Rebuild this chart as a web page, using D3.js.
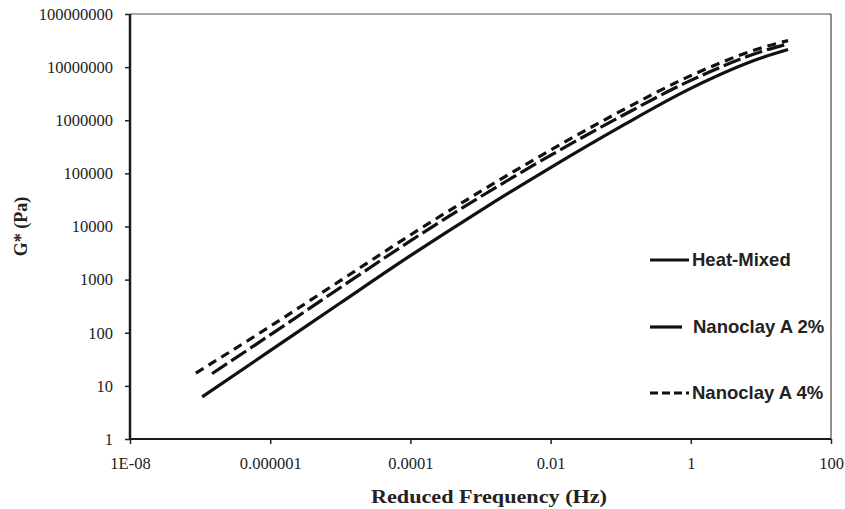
<!doctype html>
<html>
<head>
<meta charset="UTF-8">
<title>G* master curves</title>
<script src="https://cdn.jsdelivr.net/npm/d3@7"></script>
<style>
  body { margin: 0; background: #fff; }
</style>
</head>
<body>
<svg width="845" height="509"></svg>
<script>
    // reduced frequency (Hz) and G* (Pa)
    let freqHeat = [1.07e-7, 1e-6, 1e-5, 1e-4, 1e-3, 1e-2, 1e-1, 1, 10, 24.4];
    let gHeat = [6.2, 46, 363, 2820, 19950, 128800, 758600, 3980000, 14800000, 21400000];

    let freq2 = [1.48e-7, 1e-6, 1e-5, 1e-4, 1e-3, 1e-2, 1e-1, 1, 10, 24.4];
    let g2 = [17, 91, 708, 5370, 36300, 219000, 1175000, 5620000, 19500000, 27500000];

    let freq4 = [8.7e-8, 1e-6, 1e-5, 1e-4, 1e-3, 1e-2, 1e-1, 1, 10, 24.4];
    let g4 = [17.4, 132, 955, 6920, 45700, 275000, 1480000, 6920000, 22900000, 31600000];

    let seriesNames = ["Heat-Mixed", "Nanoclay A 2%", "Nanoclay A 4%"];
    let xTicks = [1e-8, 1e-6, 1e-4, 1e-2, 1, 100];
    let xTickLabels = ["1E-08", "0.000001", "0.0001", "0.01", "1", "100"];
    let yTicks = [1, 10, 100, 1000, 10000, 100000, 1000000, 10000000, 100000000];

    let serif = "'Liberation Serif', 'Times New Roman', 'DejaVu Serif', serif";
    let sans = "'Liberation Sans', Arial, sans-serif";

    let grid = {left: 130, right: 14, top: 14, bottom: 70};
    let svg = d3.select("svg");
    let width = +svg.attr("width"), height = +svg.attr("height");
    let w = width - grid.left - grid.right, h = height - grid.top - grid.bottom;
    let g = svg.append("g").attr("transform", "translate(" + grid.left + "," + grid.top + ")");

    let xScale = d3.scaleLog().domain([1e-8, 100]).range([0, w]);
    let yScale = d3.scaleLog().domain([1, 1e8]).range([h, 0]);

    // frame: thin top/right, heavy left/bottom
    g.append("line").attr("x1", 0).attr("x2", w).attr("y1", 0).attr("y2", 0)
        .attr("stroke", "#888").attr("stroke-width", 1.5);
    g.append("line").attr("x1", w).attr("x2", w).attr("y1", 0).attr("y2", h)
        .attr("stroke", "#222").attr("stroke-width", 1);

    let xAxis = d3.axisBottom(xScale).tickValues(xTicks).tickSize(5).tickPadding(13)
        .tickFormat((d, i) => xTickLabels[i]);
    let gx = g.append("g").attr("transform", "translate(0," + h + ")").call(xAxis);
    gx.select(".domain").remove();
    gx.selectAll(".tick line").attr("stroke", "#222").attr("stroke-width", 1.5);

    let yAxis = d3.axisLeft(yScale).tickValues(yTicks).tickSize(5).tickPadding(12)
        .tickFormat(d => String(d));
    let gy = g.append("g").call(yAxis);
    gy.select(".domain").remove();
    gy.selectAll(".tick line").attr("stroke", "#222").attr("stroke-width", 1.5);

    [gx, gy].forEach(a => a.attr("font-family", null).attr("font-size", null)
        .selectAll(".tick text")
        .style("font-family", serif).style("font-size", "16.5px").style("fill", "#222"));

    g.append("line").attr("x1", 0).attr("x2", w).attr("y1", h).attr("y2", h)
        .attr("stroke", "#1a1a1a").attr("stroke-width", 2);
    g.append("line").attr("x1", 0).attr("x2", 0).attr("y1", 0).attr("y2", h)
        .attr("stroke", "#1a1a1a").attr("stroke-width", 2.5);

    let line = d3.line()
        .x(d => xScale(d[0]))
        .y(d => yScale(d[1]))
        .curve(d3.curveMonotoneX);

    let series = [
        {name: seriesNames[0], pts: d3.zip(freqHeat, gHeat), dash: null},
        {name: seriesNames[1], pts: d3.zip(freq2, g2), dash: "18,5"},
        {name: seriesNames[2], pts: d3.zip(freq4, g4), dash: "9,6"}
    ];

    g.selectAll(".curve").data(series).enter().append("path")
        .attr("class", "curve")
        .attr("d", d => line(d.pts))
        .attr("fill", "none")
        .attr("stroke", "#111")
        .attr("stroke-width", 3.2)
        .attr("stroke-dasharray", d => d.dash);

    // legend
    let legendY = [260, 327, 393];
    let lg = svg.selectAll(".leg").data(series).enter().append("g")
        .attr("transform", (d, i) => "translate(650," + legendY[i] + ")");
    lg.append("line")
        .attr("x1", 0).attr("x2", (d, i) => i == 1 ? 32 : 39)
        .attr("y1", 0).attr("y2", 0)
        .attr("stroke", "#111").attr("stroke-width", 3.2)
        .attr("stroke-dasharray", (d, i) => i == 2 ? "8,4" : null);
    lg.append("text")
        .attr("x", (d, i) => i == 1 ? 43 : 42)
        .attr("y", 6)
        .style("font-family", sans)
        .attr("font-weight", "bold")
        .attr("font-size", 18.5)
        .attr("fill", "#222")
        .text(d => d.name);

    // axis titles
    svg.append("text")
        .attr("x", 489).attr("y", 503)
        .attr("text-anchor", "middle")
        .style("font-family", serif)
        .attr("font-weight", "bold").attr("font-size", 18).attr("fill", "#222")
        .attr("textLength", 236).attr("lengthAdjust", "spacingAndGlyphs")
        .text("Reduced Frequency (Hz)");
    svg.append("text")
        .attr("transform", "translate(27," + (grid.top + h / 2) + ") rotate(-90)")
        .attr("text-anchor", "middle")
        .style("font-family", serif)
        .attr("font-weight", "bold").attr("font-size", 18).attr("fill", "#222")
        .text("G* (Pa)");
</script>
</body>
</html>
